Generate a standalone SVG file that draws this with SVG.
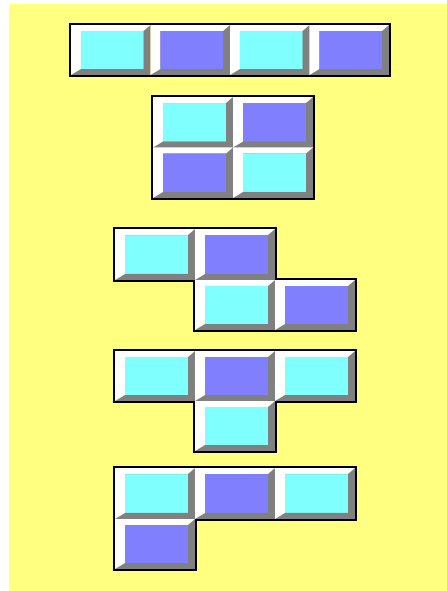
<svg xmlns="http://www.w3.org/2000/svg" xmlns:xlink="http://www.w3.org/1999/xlink" width="447" height="591" viewBox="0 0 447 591">
<style>
.outline{fill:none;stroke:#000;stroke-width:2;stroke-linejoin:miter}
</style>
<defs>
<symbol id="tc" viewBox="0 0 80 50" preserveAspectRatio="none">
<rect width="80" height="50" fill="#808080"/>
<polygon points="0,0 80,0 73,6 10,6 10,44 0,50" fill="#ffffff"/>
<rect x="10" y="6" width="63" height="38" fill="#80ffff"/>
</symbol>
<symbol id="tb" viewBox="0 0 80 50" preserveAspectRatio="none">
<rect width="80" height="50" fill="#808080"/>
<polygon points="0,0 80,0 73,6 10,6 10,44 0,50" fill="#ffffff"/>
<rect x="10" y="6" width="63" height="38" fill="#8080ff"/>
</symbol>
</defs>
<rect width="447" height="591" fill="#ffffff"/>
<rect x="9" y="4" width="438" height="587" fill="#ffff80"/>
<g id="piece-i">
<use xlink:href="#tc" x="71" y="25" width="79.5" height="50"/>
<use xlink:href="#tb" x="150.5" y="25" width="79.5" height="50"/>
<use xlink:href="#tc" x="230" y="25" width="79.5" height="50"/>
<use xlink:href="#tb" x="309.5" y="25" width="79.5" height="50"/>
<rect class="outline" x="70" y="24" width="320" height="52"/>
</g>
<g id="piece-o">
<use xlink:href="#tc" x="153" y="97" width="80" height="50.5"/>
<use xlink:href="#tb" x="233" y="97" width="80" height="50.5"/>
<use xlink:href="#tb" x="153" y="147.5" width="80" height="50.5"/>
<use xlink:href="#tc" x="233" y="147.5" width="80" height="50.5"/>
<rect class="outline" x="152" y="96" width="162" height="103"/>
</g>
<g id="piece-s">
<use xlink:href="#tc" x="115" y="229" width="80" height="51"/>
<use xlink:href="#tb" x="195" y="229" width="80" height="51"/>
<use xlink:href="#tc" x="195" y="280" width="80" height="50"/>
<use xlink:href="#tb" x="275" y="280" width="80" height="50"/>
<path class="outline" d="M114,228 H276 V279 H356 V331 H194 V281 H114 Z"/>
</g>
<g id="piece-t">
<use xlink:href="#tc" x="115" y="351" width="80" height="50"/>
<use xlink:href="#tb" x="195" y="351" width="80" height="50"/>
<use xlink:href="#tc" x="275" y="351" width="80" height="50"/>
<use xlink:href="#tc" x="195" y="401" width="80" height="50"/>
<path class="outline" d="M114,350 H356 V402 H276 V452 H194 V402 H114 Z"/>
</g>
<g id="piece-l">
<use xlink:href="#tc" x="115" y="468" width="80" height="51"/>
<use xlink:href="#tb" x="195" y="468" width="80" height="51"/>
<use xlink:href="#tc" x="275" y="468" width="80" height="51"/>
<use xlink:href="#tb" x="115" y="519" width="80" height="50"/>
<path class="outline" d="M114,467 H356 V520 H196 V570 H114 Z"/>
</g>
</svg>
